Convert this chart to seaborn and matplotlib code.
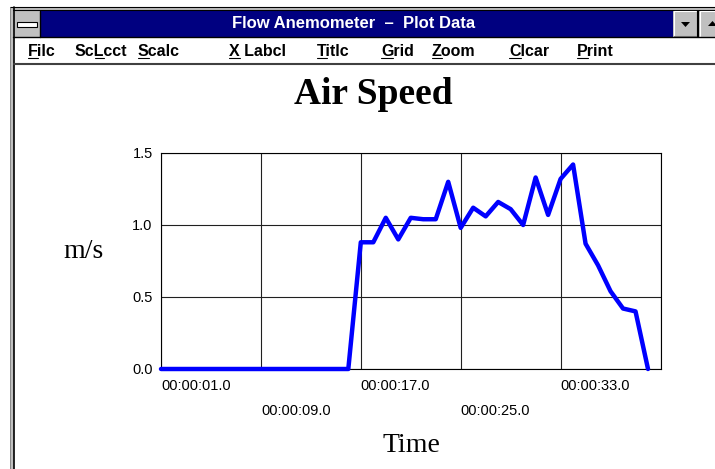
import matplotlib
matplotlib.use("Agg")
import matplotlib.pyplot as plt
import seaborn as sns
import pandas as pd
from matplotlib.patches import Rectangle, Polygon
from matplotlib.lines import Line2D
from matplotlib.transforms import ScaledTranslation

# data
seconds = [1, 2, 3, 4, 5, 6, 7, 8, 9, 10,
           11, 12, 13, 14, 15, 16, 17, 18, 19, 20,
           21, 22, 23, 24, 25, 26, 27, 28, 29, 30,
           31, 32, 33, 34, 35, 36, 37, 38, 39, 40]
air_speed = [0.0, 0.0, 0.0, 0.0, 0.0, 0.0, 0.0, 0.0, 0.0, 0.0,
             0.0, 0.0, 0.0, 0.0, 0.0, 0.0, 0.88, 0.88, 1.05, 0.90,
             1.05, 1.04, 1.04, 1.30, 0.98, 1.12, 1.06, 1.16, 1.11, 1.00,
             1.33, 1.07, 1.32, 1.42, 0.87, 0.72, 0.54, 0.42, 0.40, 0.0]

tick_seconds = [1, 9, 17, 25, 33, 41]
tick_labels = ["00:00:01.0", "00:00:09.0", "00:00:17.0", "00:00:25.0", "00:00:33.0", ""]
y_ticks = [0.0, 0.5, 1.0, 1.5]

menu_items = ["Filc", "ScLcct", "Scalc", "X Labcl", "Titlc", "Grid", "Zoom", "Clcar", "Print"]
menu_x = [28, 75, 138, 229, 317, 381, 432, 509, 577]
menu_hot = [0, 2, 0, 0, 0, 0, 0, 0, 0]

df = pd.DataFrame({"t": seconds, "speed": air_speed})

sns.set_style("white")
plt.rcParams.update({"text.color": "black", "axes.labelcolor": "black",
                     "xtick.color": "black", "ytick.color": "black"})
W, H = 715, 469
fig = plt.figure(figsize=(W / 100, H / 100), dpi=100)

GRAY = "#c0c0c0"
NAVY = "#000080"


def px_rect(x0, y0, x1, y1, **kw):
    fig.add_artist(Rectangle((x0 / W, 1 - y1 / H), (x1 - x0) / W, (y1 - y0) / H,
                             transform=fig.transFigure, **kw))


def px_line(xs, ys, **kw):
    fig.add_artist(Line2D([x / W for x in xs], [1 - y / H for y in ys],
                          transform=fig.transFigure, **kw))


# --- window chrome ---
px_rect(10, 7, 715, 11, facecolor=GRAY, edgecolor="none")
px_line([10, 715], [7.5, 7.5], color="black", lw=0.8)
px_rect(10, 7, 13.5, 469, facecolor=GRAY, edgecolor="none")
px_line([13.5, 13.5], [7, 469], color="black", lw=1.2)
px_line([10, 10], [7, 469], color="#808080", lw=0.6)
px_line([13, 715], [10.5, 10.5], color="black", lw=0.8)
px_rect(40, 11, 673, 37, facecolor=NAVY, edgecolor="none")
# system menu box
px_rect(14, 11, 40, 37, facecolor=GRAY, edgecolor="none")
px_line([40, 40], [11, 37], color="black", lw=1)
px_rect(17, 22, 37, 27, facecolor="white", edgecolor="black", lw=0.8)
# min / max buttons
px_rect(673, 11, 697, 37, facecolor=GRAY, edgecolor="none")
px_line([673.5, 673.5, 696], [36, 11.5, 11.5], color="white", lw=0.8)
px_line([674, 696.5, 696.5], [36.5, 36.5, 11.5], color="#808080", lw=0.8)
px_line([698, 698], [11, 37], color="black", lw=1.5)
px_rect(699, 11, 715, 37, facecolor=GRAY, edgecolor="none")
px_line([699.5, 699.5, 715], [36, 11.5, 11.5], color="white", lw=0.8)
fig.add_artist(Polygon([(681 / W, 1 - 22 / H), (690 / W, 1 - 22 / H), (685.5 / W, 1 - 27 / H)],
                       closed=True, transform=fig.transFigure, facecolor="black", edgecolor="none"))
fig.add_artist(Polygon([(708 / W, 1 - 26 / H), (717 / W, 1 - 26 / H), (712.5 / W, 1 - 21 / H)],
                       closed=True, transform=fig.transFigure, facecolor="black", edgecolor="none"))
px_line([13, 715], [37.5, 37.5], color="black", lw=1)
fig.text(354 / W, 1 - 24 / H, "Flow Anemometer  \u2013  Plot Data", color="white",
         family="Liberation Sans", fontweight="bold", fontsize=12, ha="center", va="center")

# menu bar
px_line([14, 715], [64, 64], color="#404040", lw=1.5)
fig.canvas.draw()
renderer = fig.canvas.get_renderer()
menu_font = dict(family="Liberation Sans", fontweight="bold", fontsize=11.5)
for name, x0, hot in zip(menu_items, menu_x, menu_hot):
    fig.text(x0 / W, 1 - 51 / H, name, ha="left", va="center", **menu_font)
    tmp = fig.text(0, 0, name[:hot] or "", **menu_font)
    w_pre = tmp.get_window_extent(renderer).width if hot else 0
    tmp.remove()
    tmp = fig.text(0, 0, name[hot], **menu_font)
    w_ch = tmp.get_window_extent(renderer).width
    tmp.remove()
    px_line([x0 + w_pre, x0 + w_pre + w_ch], [58.5, 58.5], color="black", lw=0.8)

# --- plot ---
ax = fig.add_axes([161 / W, 1 - 369 / H, 499.5 / W, 216 / H])
sns.lineplot(data=df, x="t", y="speed", color="#0000ff", linewidth=3.2,
             ax=ax, clip_on=False, zorder=5)
ax.set_xlim(1, 41)
ax.set_ylim(0, 1.5)
ax.set_xticks(tick_seconds, tick_labels)
ax.set_yticks(y_ticks, [f"{v:.1f}" for v in y_ticks])
ax.grid(True, color="#202020", linewidth=0.8)
for s in ax.spines.values():
    s.set_color("black")
    s.set_linewidth(0.8)
ax.tick_params(axis="x", direction="out", length=4, width=0.8, pad=3, colors="black")
ax.tick_params(axis="y", length=0, pad=6, colors="black")

for lbl in ax.get_xticklabels():
    lbl.set_family("Liberation Sans")
    lbl.set_fontsize(10.5)
    lbl.set_ha("left")
for i in (1, 3):
    lbl = ax.get_xticklabels()[i]
    lbl.set_transform(lbl.get_transform() + ScaledTranslation(0, -0.25, fig.dpi_scale_trans))
for lbl in ax.get_yticklabels():
    lbl.set_family("Liberation Sans")
    lbl.set_fontsize(10.5)

ax.set_title("Air Speed", family="Liberation Serif", fontweight="bold", fontsize=27,
             x=(373 - 161) / 499.5, y=(369 - 112) / 216, va="baseline", color="black")
ax.set_xlabel("Time", family="Liberation Serif", fontsize=20, va="baseline", color="black")
ax.xaxis.set_label_coords((411 - 161) / 499.5, (369 - 452) / 216)
ax.set_ylabel("m/s", family="Liberation Serif", fontsize=20, rotation=0,
              ha="center", va="baseline", color="black")
ax.yaxis.set_label_coords((83 - 161) / 499.5, (369 - 258) / 216)

fig.savefig("out.png", dpi=100, facecolor="white")
